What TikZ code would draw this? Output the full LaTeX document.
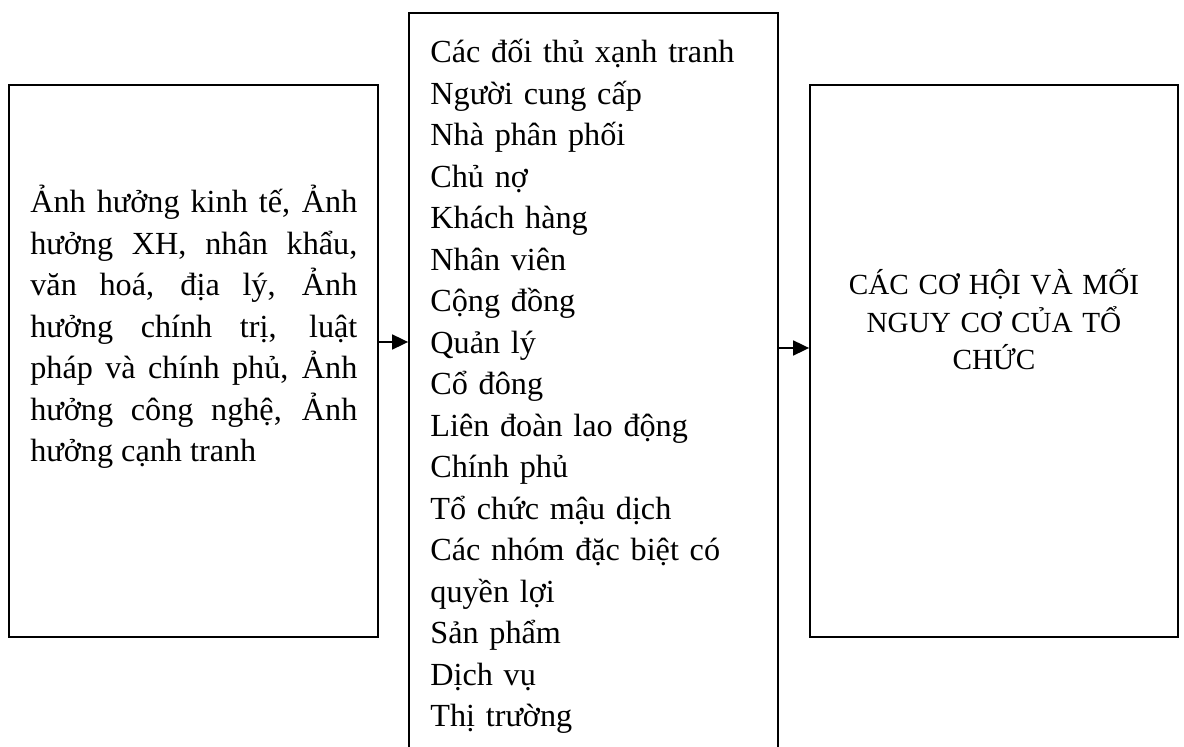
\documentclass[tikz,border=0pt]{standalone}
\usepackage{fontspec}
\setmainfont{Liberation Serif}
\usetikzlibrary{arrows.meta,positioning}

\begin{document}
\begin{tikzpicture}[x=0.5pt,y=-0.5pt,
  frame/.style={draw=black,line width=0.9pt,inner sep=0pt},
  txt/.style={inner sep=0pt,font=\fontsize{16.1}{20.75}\selectfont},
  arr/.style={-{Triangle[length=8pt,width=7.5pt]},line width=0.9pt},
]
  \clip (0,0) rectangle (1184,747);
  %% boxes
  \node[frame,minimum width=184.5pt,minimum height=276pt](envbox) at (193.5,361) {};
  \node[frame,minimum width=184.5pt,minimum height=393.5pt](stkbox) at (593.5,406.5) {};
  \node[frame,minimum width=184pt,minimum height=276pt](oppbox) at (994,361) {};

  %% texts
  \node[txt,anchor=base west,text width=163.5pt,align=justify](envtxt) at (30,213)
    {Ảnh hưởng kinh tế, Ảnh\linebreak
     hưởng XH, nhân khẩu,\linebreak
     văn hoá, địa lý, Ảnh\linebreak
     hưởng chính trị, luật\linebreak
     pháp và chính phủ, Ảnh\linebreak
     hưởng công nghệ, Ảnh\linebreak
     hưởng cạnh tranh};
  \node[txt,anchor=base west,text width=165pt,align=left](stktxt) at (430,63)
    {Các đối thủ xạnh tranh\\
     Người cung cấp\\
     Nhà phân phối\\
     Chủ nợ\\
     Khách hàng\\
     Nhân viên\\
     Cộng đồng\\
     Quản lý\\
     Cổ đông\\
     Liên đoàn lao động\\
     Chính phủ\\
     Tổ chức mậu dịch\\
     Các nhóm đặc biệt có\\
     quyền lợi\\
     Sản phẩm\\
     Dịch vụ\\
     Thị trường};
  \node[inner sep=0pt,font=\fontsize{14.6}{18.75}\selectfont,text width=170pt,
        align=center,anchor=base](opptxt) at (994,295)
    {CÁC CƠ HỘI VÀ MỐI\\NGUY CƠ CỦA TỔ\\CHỨC};

  %% arrows
  \draw[arr] (envbox.east |- 0,342) -- (stkbox.west |- 0,342);
  \draw[arr] (stkbox.east |- 0,348) -- (oppbox.west |- 0,348);
\end{tikzpicture}
\end{document}
